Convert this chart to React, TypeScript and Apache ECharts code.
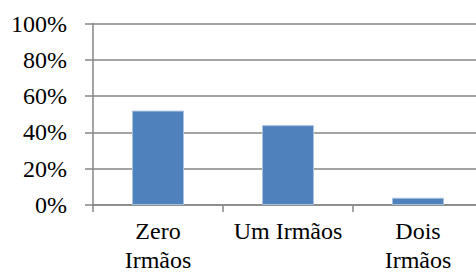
import React, { useEffect, useRef } from "react";
import * as echarts from "echarts";

const categories = ["Zero\nIrmãos", "Um Irmãos", "Dois\nIrmãos"];
const values = [0.52, 0.44, 0.04];
const yTickLabels = ["0%", "20%", "40%", "60%", "80%", "100%"];

export default function App() {
  const ref = useRef<HTMLDivElement>(null);
  useEffect(() => {
    if (!ref.current) return;
    const chart = echarts.init(ref.current, null, { renderer: "svg" });
    const font = "Liberation Serif, serif";
    chart.setOption({
      animation: false,
      backgroundColor: "#ffffff",
      textStyle: { fontFamily: font },
      grid: { left: 93, top: 23.5, bottom: 72, right: 0 },
      xAxis: {
        type: "category",
        data: categories,
        axisLine: { show: true, lineStyle: { color: "#868686", width: 1.5 } },
        axisTick: { show: true, length: 7, lineStyle: { color: "#868686", width: 1.5 } },
        axisLabel: {
          color: "#000000",
          fontFamily: font,
          fontSize: 24,
          lineHeight: 29,
          margin: 11,
          interval: 0,
        },
        splitLine: { show: false },
      },
      yAxis: {
        type: "value",
        min: 0,
        max: 1,
        interval: 0.2,
        axisLine: { show: true, lineStyle: { color: "#868686", width: 1.5 } },
        axisTick: { show: true, length: 8, lineStyle: { color: "#868686", width: 1.5 } },
        axisLabel: {
          color: "#000000",
          fontFamily: font,
          fontSize: 24,
          margin: 26,
          formatter: (v: number) => yTickLabels[Math.round(v * 5)] ?? "",
        },
        splitLine: { show: true, lineStyle: { color: "#868686", width: 1.5 } },
      },
      series: [
        {
          type: "bar",
          data: values,
          barWidth: "40%",
          itemStyle: { color: "#4f81bd", borderColor: "#a9c1df", borderWidth: 1 },
        },
      ],
    });
    return () => chart.dispose();
  }, []);
  return (
    <div
      style={{
        position: "fixed",
        left: 0,
        top: 0,
        width: 476,
        height: 277,
        overflow: "hidden",
        background: "#ffffff",
      }}
    >
      <div ref={ref} style={{ width: 483, height: 277 }} />
    </div>
  );
}
